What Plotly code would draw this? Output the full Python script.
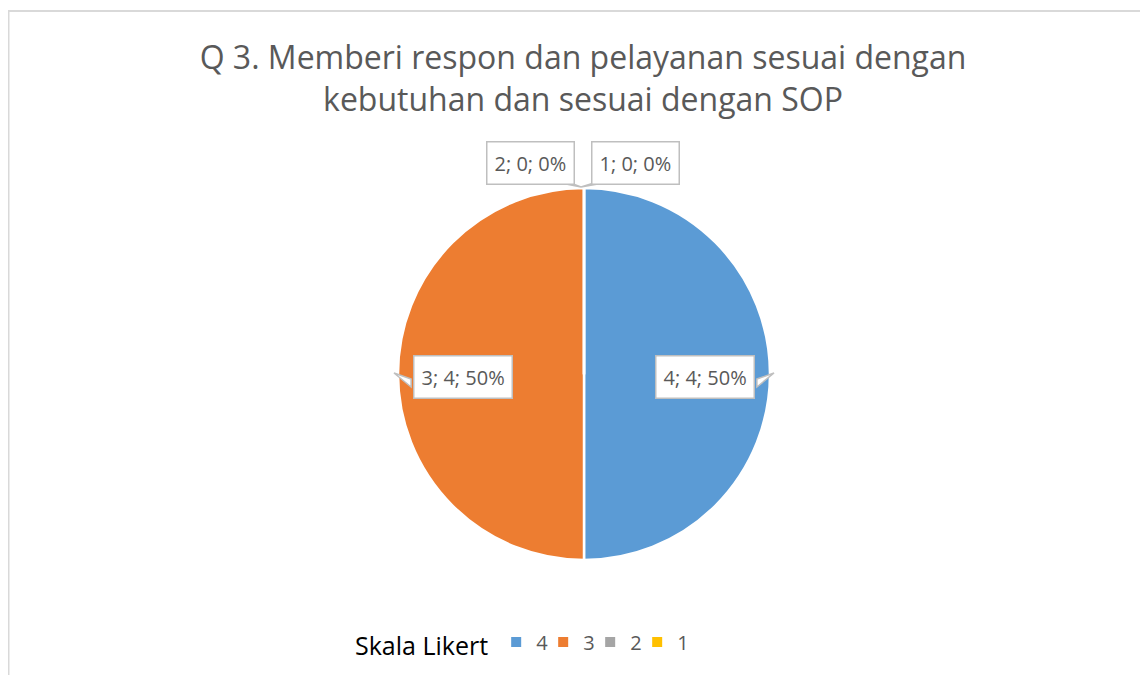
import math
import plotly.graph_objects as go

labels = ["4", "3", "2", "1"]
values = [4, 4, 0, 0]
colors = ["#5B9BD5", "#ED7D31", "#A5A5A5", "#FFC000"]
title_text = "Q 3. Memberi respon dan pelayanan sesuai dengan<br>kebutuhan dan sesuai dengan SOP"
legend_title = "Skala Likert"

W, H = 1148, 675
cx, cy, r = 576, 366, 186
FONT = "Open Sans"

def px(x):
    return x / W

def py(y):
    return 1 - y / H

fig = go.Figure(go.Pie(
    labels=labels, values=values, sort=False, direction="clockwise", rotation=0,
    marker=dict(colors=colors, line=dict(color="white", width=2.5)),
    textinfo="none", hoverinfo="label+value+percent",
    domain=dict(x=[px(cx - r), px(cx + r)], y=[py(cy + r), py(cy - r)]),
))

total = sum(values)
annotations = []
shapes = [dict(type="rect", xref="paper", yref="paper", x0=px(0.5), x1=px(W + 5), y0=py(H + 5), y1=py(3),
               line=dict(color="#D9D9D9", width=2), fillcolor="rgba(0,0,0,0)", layer="below")]

cum = 0
for lab, v in zip(labels, values):
    start = cum
    cum += v
    mid = (start + cum) / 2 / total * 2 * math.pi
    pct = round(v / total * 100)
    text = f"{lab}; {v}; {pct}%"
    if v > 0:
        k = 0.65
        bx = cx + r * k * math.sin(mid)
        by = cy - r * k * math.cos(mid) + 3
        side = 1 if math.sin(mid) > 0 else -1
        edge = bx + side * 52
        tipx = cx + side * (r + 4)
        path = f"M {px(edge)},{py(by + 2)} L {px(tipx)},{py(by - 4)} L {px(edge)},{py(by + 10)} Z"
        shapes.append(dict(type="path", xref="paper", yref="paper", path=path,
                           fillcolor="white", line=dict(color="#BFBFBF", width=1.5), layer="above"))
    else:
        side = -1 if lab == "2" else 1
        bx = cx + r * math.sin(mid) + (-54 if side < 0 else 51)
        by = cy - r - 25
        tipx, tipy = cx - 3, cy - r - 1
        ex = bx - side * 32
        path = f"M {px(ex - 6)},{py(by + 19)} L {px(tipx)},{py(tipy)} L {px(ex + 6)},{py(by + 19)} Z"
        shapes.append(dict(type="path", xref="paper", yref="paper", path=path,
                           fillcolor="white", line=dict(color="#BFBFBF", width=1.5), layer="above"))
    annotations.append(dict(x=px(bx), y=py(by), xref="paper", yref="paper", text=text, showarrow=False,
                            font=dict(family=FONT, size=20, color="#595959"),
                            bgcolor="white", bordercolor="#BFBFBF", borderwidth=1.5, borderpad=7,
                            xanchor="center", yanchor="middle"))

fig.update_layout(
    width=W, height=H,
    margin=dict(l=0, r=0, t=0, b=0),
    paper_bgcolor="white", plot_bgcolor="white",
    title=dict(text=title_text, x=px(575), xanchor="center", y=py(61), yanchor="middle",
               font=dict(family=FONT, size=32, color="#595959")),
    showlegend=True,
    legend=dict(orientation="h", x=px(511), xanchor="center", y=py(636), yanchor="middle",
                title=dict(text=legend_title, side="left", font=dict(family=FONT, size=25, color="black")),
                font=dict(family=FONT, size=20, color="#595959"), itemsizing="constant",
                entrywidth=2, entrywidthmode="pixels", traceorder="normal"),
    annotations=annotations, shapes=shapes,
)

fig.write_html("out.html")
